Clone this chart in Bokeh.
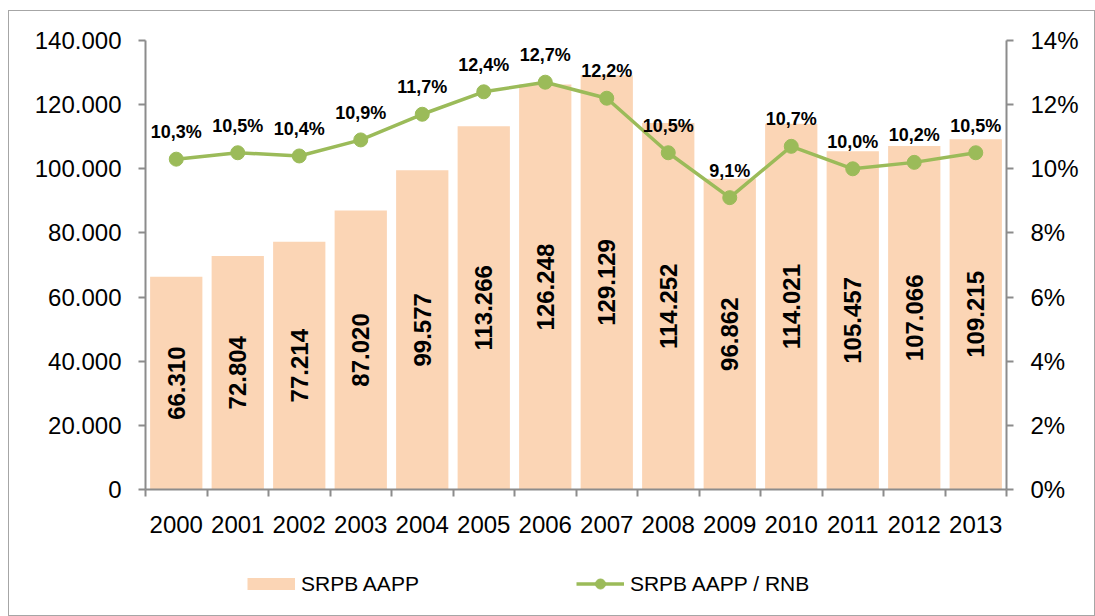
import math
from bokeh.plotting import figure
from bokeh.layouts import column
from bokeh.models import (ColumnDataSource, Range1d, LinearAxis, FixedTicker,
                          Legend, LegendItem)
from bokeh.embed import file_html
from bokeh.resources import INLINE
from bokeh.core.properties import value

years = ["2000", "2001", "2002", "2003", "2004", "2005", "2006",
         "2007", "2008", "2009", "2010", "2011", "2012", "2013"]
srpb = [66310, 72804, 77214, 87020, 99577, 113266, 126248,
        129129, 114252, 96862, 114021, 105457, 107066, 109215]
ratio = [10.3, 10.5, 10.4, 10.9, 11.7, 12.4, 12.7,
         12.2, 10.5, 9.1, 10.7, 10.0, 10.2, 10.5]
left_ticks = [0, 20000, 40000, 60000, 80000, 100000, 120000, 140000]
left_labels = ["0", "20.000", "40.000", "60.000", "80.000", "100.000", "120.000", "140.000"]
right_ticks = [0, 2, 4, 6, 8, 10, 12, 14]
right_labels = ["0%", "2%", "4%", "6%", "8%", "10%", "12%", "14%"]
series_names = ["SRPB AAPP", "SRPB AAPP / RNB"]

FONT = "Liberation Sans"
BAR = "#FBD5B5"
GREEN = "#9BBB59"
AX = "#8c8c8c"

xs = list(range(len(years)))
src = ColumnDataSource(dict(
    x=xs, srpb=srpb, half=[v / 2 for v in srpb],
    srpb_lbl=[f"{v:,}".replace(",", ".") for v in srpb],
    ratio=ratio, ratio_lbl=[f"{v:.1f}%".replace(".", ",") for v in ratio],
))

p = figure(width=1085, height=539, output_backend="svg", toolbar_location=None,
           x_range=Range1d(-0.5, 13.5), y_range=Range1d(0, 140000),
           min_border_left=136, min_border_right=88, min_border_top=29,
           min_border_bottom=61)
p.outline_line_color = None
p.xgrid.visible = False
p.ygrid.visible = False
p.extra_y_ranges = {"pct": Range1d(0, 14)}

p.vbar(x="x", top="srpb", width=0.85, source=src, fill_color=BAR,
       line_color=None)
p.text(x="x", y="half", text="srpb_lbl", source=src, angle=math.pi / 2,
       text_align="center", text_baseline="middle", text_font=value(FONT),
       text_font_size="24px", text_font_style="bold", text_color="black")

p.line(x="x", y="ratio", source=src, y_range_name="pct",
       line_color=GREEN, line_width=3.5)
p.scatter(x="x", y="ratio", source=src, y_range_name="pct", size=14,
          fill_color=GREEN, line_color=GREEN)
p.text(x="x", y="ratio", text="ratio_lbl", source=src, y_range_name="pct",
       y_offset=-27, text_align="center", text_baseline="middle",
       text_font=value(FONT), text_font_size="18px", text_font_style="bold",
       text_color="black")

# x axis
xa = p.xaxis[0]
xa.ticker = FixedTicker(ticks=xs, minor_ticks=[i - 0.5 for i in range(len(years) + 1)])
xa.major_label_overrides = {i: y for i, y in enumerate(years)}
xa.major_tick_out = 0
xa.major_tick_in = 0
xa.minor_tick_out = 7
xa.minor_tick_in = 0
xa.minor_tick_line_color = AX
xa.axis_line_color = AX
xa.axis_line_width = 2
xa.minor_tick_line_width = 2
xa.major_label_standoff = 19
xa.major_label_text_font = FONT
xa.major_label_text_font_size = "24px"
xa.major_label_text_color = "black"

# left axis
ya = p.yaxis[0]
ya.ticker = FixedTicker(ticks=left_ticks)
ya.major_label_overrides = {t: l for t, l in zip(left_ticks, left_labels)}
ya.minor_tick_line_color = None
ya.major_tick_out = 7
ya.major_tick_in = 0
ya.major_tick_line_color = AX
ya.major_tick_line_width = 2
ya.axis_line_color = AX
ya.axis_line_width = 2
ya.major_label_standoff = 17
ya.major_label_text_font = FONT
ya.major_label_text_font_size = "24px"
ya.major_label_text_color = "black"

# right axis
ra = LinearAxis(y_range_name="pct")
ra.ticker = FixedTicker(ticks=right_ticks)
ra.major_label_overrides = {t: l for t, l in zip(right_ticks, right_labels)}
ra.minor_tick_line_color = None
ra.major_tick_out = 7
ra.major_tick_in = 0
ra.major_tick_line_color = AX
ra.major_tick_line_width = 2
ra.axis_line_color = AX
ra.axis_line_width = 2
ra.major_label_standoff = 17
ra.major_label_text_font = FONT
ra.major_label_text_font_size = "24px"
ra.major_label_text_color = "black"
p.add_layout(ra, "right")

# legend strip (its renderers use the real data, which lies outside this strip's ranges)
q = figure(width=1085, height=65, output_backend="svg", toolbar_location=None,
           x_range=Range1d(-100, -99), y_range=Range1d(-100, -99), min_border=0)
q.axis.visible = False
q.grid.visible = False
q.outline_line_color = None
leg_bar = q.line(x="x", y="srpb", source=src, line_color=BAR, line_width=12)
leg_line = q.line(x="x", y="ratio", source=src, line_color=GREEN, line_width=3.5)
leg_pt = q.scatter(x="x", y="ratio", source=src, size=10, fill_color=GREEN,
                   line_color=GREEN)
legend = Legend(items=[LegendItem(label=series_names[0], renderers=[leg_bar]),
                       LegendItem(label=series_names[1], renderers=[leg_line, leg_pt])],
                orientation="horizontal", location=(102, 19),
                glyph_width=48, glyph_height=25, spacing=157, padding=0,
                margin=0, label_text_font=FONT, label_text_font_size="21px",
                label_text_color="black", label_standoff=6,
                border_line_color=None, background_fill_alpha=0)
q.add_layout(legend, "center")

layout = column(p, q, spacing=0)
layout.styles = {"border": "1px solid #a6a6a6", "margin-left": "8px", "margin-top": "10px"}

open("out.html", "w").write(file_html(layout, INLINE))
